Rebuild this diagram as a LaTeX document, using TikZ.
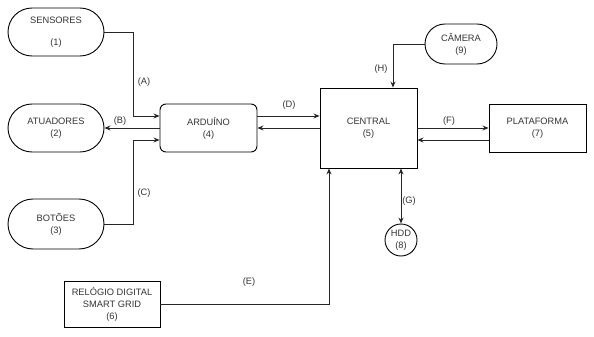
\documentclass[tikz,border=0pt]{standalone}
\usepackage{fontspec}
\setmainfont{Liberation Sans}
\usetikzlibrary{arrows.meta,shapes.misc,calc}
\begin{document}
\begin{tikzpicture}[x=1pt,y=-1pt,
  every node/.style={font=\fontsize{9.3}{12}\selectfont, text=black!80},
  blk/.style={draw=black, line width=0.9pt, inner sep=0pt, align=center},
  pill/.style={blk, rounded rectangle},
  box/.style={blk, rectangle},
  rbox/.style={blk, rectangle, rounded corners=6pt},
  disc/.style={blk, circle, minimum size=32pt},
  lbl/.style={inner sep=1pt},
  conn/.style={draw=black!85, line width=0.9pt},
  arr/.style={conn, -{Stealth[length=6pt,width=5pt]}},
  darr/.style={conn, {Stealth[length=6pt,width=5pt]}-{Stealth[length=6pt,width=5pt]}}]
\useasboundingbox (0,0) rectangle (594,337);

% blocks
\node[pill, minimum width=96pt, minimum height=48pt] (sen) at (56,32) {SENSORES\\[10pt](1)};
\node[pill, minimum width=96pt, minimum height=48pt] (atu) at (56,128) {ATUADORES\\(2)};
\node[pill, minimum width=96pt, minimum height=50pt] (bot) at (56,224) {BOTÕES\\(3)};
\node[rbox, minimum width=97pt, minimum height=48pt] (ard) at (208.5,128) {ARDUÍNO\\(4)};
\node[box, minimum width=97pt, minimum height=80pt] (cen) at (368.5,128) {CENTRAL\\(5)};
\node[box, minimum width=97pt, minimum height=48pt] (pla) at (537.5,128) {PLATAFORMA\\(7)};
\node[pill, minimum width=72pt, minimum height=40pt] (cam) at (461,44) {CÂMERA\\(9)};
\node[disc] (hdd) at (401,240) {HDD\\(8)};
\node[box, minimum width=96pt, minimum height=46pt] (rel) at (112,304) {RELÓGIO DIGITAL\\SMART GRID\\(6)};

% bend points
\coordinate (xa) at (133,0);
\coordinate (xe) at (329,0);
\coordinate (xh) at (393,0);
\coordinate (xg) at (401,0);

% connectors
\draw[arr] (sen.east) -- (sen.east -| xa) |- ([yshift=12pt]ard.west);
\draw[arr] (ard.west) -- (atu.east);
\draw[arr] (bot.east) -- (bot.east -| xa) |- ([yshift=-12pt]ard.west);
\draw[arr] ([yshift=12pt]ard.east) -- ([yshift=12pt]cen.west);
\draw[arr] (cen.west) -- (ard.east);
\draw[arr] (rel.east) -- (rel.east -| xe) -- (cen.south -| xe);
\draw[arr] (cen.east) -- (pla.west);
\draw[arr] ([yshift=-12pt]pla.west) -- ([yshift=-12pt]cen.east);
\draw[arr] (cam.west) -- (cam.west -| xh) -- (cen.north -| xh);
\draw[darr] (cen.south -| xg) -- (hdd.north);

% connector labels
\node[lbl] (la) at (144,82) {(A)};
\node[lbl] (lb) at (120,121) {(B)};
\node[lbl] (lc) at (144,193) {(C)};
\node[lbl] (ld) at (289,105) {(D)};
\node[lbl] (le) at (249,282) {(E)};
\node[lbl] (lf) at (449,121) {(F)};
\node[lbl] (lg) at (409,201) {(G)};
\node[lbl] (lh) at (381,69) {(H)};
\end{tikzpicture}
\end{document}
